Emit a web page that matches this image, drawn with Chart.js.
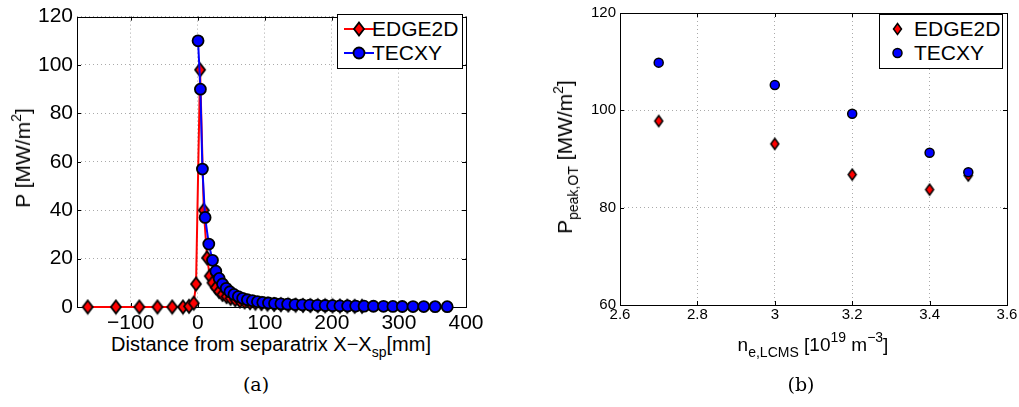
<!DOCTYPE html>
<html lang="en">
<head>
<meta charset="UTF-8">
<title>heat flux profiles</title>
<script src="https://cdn.jsdelivr.net/npm/chart.js"></script>
<style>
  body { margin: 0; background: #fff; font-family: "Liberation Sans", Arial, sans-serif; }
  #page { position: relative; width: 1019px; height: 407px; overflow: hidden; }
  canvas { position: absolute; top: 0; }
  #left { left: 0; }
  #right { left: 520px; }
  .lbl { position: absolute; white-space: nowrap; color: #000; line-height: 24px; }
  .sub { font-size: 14px; position: relative; top: 6px; }
  .sup { font-size: 14px; position: relative; top: -9px; }
  .legend { position: absolute; border: 1px solid #000; background: #fff; box-sizing: border-box; }
  .legend .item { position: absolute; left: 0; height: 24px; line-height: 24px; font-size: 21px; white-space: nowrap; }
  .legend svg { position: absolute; top: 0; }
  .legend span { position: absolute; top: 0; }
  .cap { position: absolute; font-family: "DejaVu Serif", "Liberation Serif", serif; font-size: 19px; line-height: 24px; }
</style>
</head>
<body>
<div id="page">
  <canvas id="left" width="500" height="330"></canvas>
  <canvas id="right" width="499" height="330"></canvas>

  <div class="lbl" style="left:24px; top:158px; font-size:21px; transform: translate(-50%,-50%) rotate(-90deg);">P [MW/m<span class="sup">2</span>]</div>
  <div class="lbl" style="left:271px; top:332px; font-size:20px; transform: translateX(-50%);">Distance from separatrix X&minus;X<span class="sub">sp</span>[mm]</div>

  <div class="lbl" style="left:566px; top:157px; font-size:21px; transform: translate(-50%,-50%) rotate(-90deg);">P<span class="sub">peak,OT</span> [MW/m<span class="sup">2</span>]</div>
  <div class="lbl" style="left:813px; top:333px; font-size:19px; transform: translateX(-50%);">n<span class="sub">e,LCMS</span> [10<span class="sup">19</span> m<span class="sup">&minus;3</span>]</div>

  <div class="legend" style="left:337px; top:14px; width:126px; height:55px;">
    <div class="item" style="top:2px; width:124px;">
      <svg width="32" height="24" style="left:5px"><line x1="1" y1="12" x2="31" y2="12" stroke="#f00" stroke-width="2"/><polygon points="16,5.5 21,12 16,18.5 11,12" fill="#f00" stroke="#000" stroke-width="1.8"/></svg>
      <span style="left:34px">EDGE2D</span>
    </div>
    <div class="item" style="top:26px; width:124px;">
      <svg width="32" height="24" style="left:5px"><line x1="1" y1="12" x2="31" y2="12" stroke="#00f" stroke-width="2"/><circle cx="16" cy="12" r="5.5" fill="#00f" stroke="#000" stroke-width="1.8"/></svg>
      <span style="left:34px">TECXY</span>
    </div>
  </div>

  <div class="legend" style="left:879px; top:14px; width:124px; height:55px;">
    <div class="item" style="top:2px; width:122px;">
      <svg width="24" height="24" style="left:6px"><polygon points="11.5,6.5 15.5,12 11.5,17.5 7.5,12" fill="#f00" stroke="#000" stroke-width="1.5"/></svg>
      <span style="left:34px">EDGE2D</span>
    </div>
    <div class="item" style="top:26px; width:122px;">
      <svg width="24" height="24" style="left:6px"><circle cx="11.5" cy="12" r="4.5" fill="#00f" stroke="#000" stroke-width="1.5"/></svg>
      <span style="left:34px">TECXY</span>
    </div>
  </div>

  <div class="cap" style="left:256px; top:372px; transform: translateX(-50%);">(a)</div>
  <div class="cap" style="left:801px; top:372px; transform: translateX(-50%);">(b)</div>
</div>

<script>
// (a) heat flux profile vs distance from separatrix
var edgeX = [-164, -122, -87, -60, -38, -22, -13, -6, -2.5, 3.5, 9, 14, 18, 22, 27, 32, 37, 43, 49, 56, 63, 70, 78, 86, 95, 104, 114, 124, 135, 146, 157, 168, 179, 190, 201, 212, 223, 234, 245];
var edgeY = [0, 0, 0, 0, 0, 0, 0.3, 1.6, 9.5, 98, 40, 20.3, 12.8, 10, 8, 6.4, 5.2, 4.3, 3.6, 3.0, 2.5, 2.1, 1.8, 1.6, 1.4, 1.2, 1.05, 0.95, 0.85, 0.75, 0.65, 0.6, 0.55, 0.5, 0.45, 0.4, 0.35, 0.3, 0.3];
var tecX = [0.5, 4, 7, 11, 16.5, 22, 27, 32, 37, 42.5, 48, 54, 60.5, 67, 74, 81.5, 89, 97, 105.5, 114.5, 124, 134, 145, 156, 167, 178.5, 190, 201, 212, 223.5, 235.5, 248, 262, 277, 291, 305, 321, 337, 354, 372];
var tecY = [110, 90, 57, 37, 26, 19.3, 14.8, 11.8, 9.5, 7.7, 6.3, 5.2, 4.3, 3.6, 3.0, 2.6, 2.2, 1.9, 1.65, 1.45, 1.3, 1.15, 1.0, 0.9, 0.8, 0.7, 0.62, 0.55, 0.5, 0.45, 0.4, 0.35, 0.3, 0.27, 0.24, 0.21, 0.19, 0.17, 0.15, 0.14];
var leftXTicks = [-100, 0, 100, 200, 300, 400];
var leftYTicks = [0, 20, 40, 60, 80, 100, 120];

// (b) peak heat flux vs upstream density
var density = [2.7, 3.0, 3.2, 3.4, 3.5];
var edgePeak = [97.8, 93.1, 86.8, 83.7, 86.6];
var tecPeak = [109.8, 105.2, 99.3, 91.3, 87.3];
var rightXTicks = [2.6, 2.8, 3.0, 3.2, 3.4, 3.6];
var rightYTicks = [60, 80, 100, 120];

var FONT = '"Liberation Sans", Arial, sans-serif';

function pts(xs, ys) {
  return xs.map(function (x, i) { return { x: x, y: ys[i] }; });
}

// taller-than-wide diamond like matlab's 'd' marker
function diamond(w, h, lw) {
  var c = document.createElement('canvas');
  c.width = w + 4; c.height = h + 4;
  var g = c.getContext('2d');
  g.beginPath();
  g.moveTo(c.width / 2, 2);
  g.lineTo(c.width - 2, c.height / 2);
  g.lineTo(c.width / 2, c.height - 2);
  g.lineTo(2, c.height / 2);
  g.closePath();
  g.fillStyle = '#ff0000';
  g.fill();
  g.lineWidth = lw;
  g.strokeStyle = '#000';
  g.stroke();
  return c;
}

// box round the axes plus small inward ticks, matlab style
var boxPlugin = {
  id: 'box',
  beforeDatasetsDraw: function (chart) {
    var a = chart.chartArea, ctx = chart.ctx;
    var xs = chart.scales.x, ys = chart.scales.y;
    ctx.save();
    ctx.strokeStyle = '#000';
    ctx.lineWidth = 1;
    ctx.beginPath();
    xs.ticks.forEach(function (t) {
      var px = Math.round(xs.getPixelForValue(t.value)) + 0.5;
      ctx.moveTo(px, a.bottom); ctx.lineTo(px, a.bottom - 4);
      ctx.moveTo(px, a.top); ctx.lineTo(px, a.top + 4);
    });
    ys.ticks.forEach(function (t) {
      var py = Math.round(ys.getPixelForValue(t.value)) + 0.5;
      ctx.moveTo(a.left, py); ctx.lineTo(a.left + 4, py);
      ctx.moveTo(a.right, py); ctx.lineTo(a.right - 4, py);
    });
    ctx.stroke();
    ctx.strokeRect(Math.round(a.left) + 0.5, Math.round(a.top) + 0.5, Math.round(a.right - a.left), Math.round(a.bottom - a.top));
    ctx.restore();
  }
};

function axis(min, max, ticks, size, width, height, fmt, pad) {
  var o = {
    type: 'linear',
    min: min,
    max: max,
    afterBuildTicks: function (s) { s.ticks = ticks.map(function (v) { return { value: v }; }); },
    ticks: {
      color: '#000',
      font: { family: FONT, size: size },
      padding: pad,
      maxRotation: 0,
      autoSkip: false,
      callback: fmt
    },
    grid: { color: '#aaaaaa', lineWidth: 1, drawTicks: false },
    border: { display: false, dash: [1, 3] }
  };
  if (width) o.afterFit = function (s) { s.width = width; };
  if (height) o.afterFit = function (s) { s.height = height; };
  return o;
}

function minus(v) { return String(v).replace('-', '\u2212'); }
function dec(v) { return String(Math.round(v * 10) / 10); }

new Chart(document.getElementById('left'), {
  type: 'line',
  data: {
    datasets: [{
      label: 'EDGE2D',
      data: pts(edgeX, edgeY),
      borderColor: '#ff0000',
      borderWidth: 2,
      pointStyle: diamond(10, 13, 1.8),
      pointRadius: 6,
      order: 2,
      clip: false
    }, {
      label: 'TECXY',
      data: pts(tecX, tecY),
      borderColor: '#0000ff',
      borderWidth: 2,
      backgroundColor: '#0000ff',
      pointStyle: 'circle',
      pointRadius: 5.5,
      pointBorderColor: '#000',
      pointBorderWidth: 1.8,
      order: 1,
      clip: false
    }]
  },
  options: {
    responsive: false,
    animation: false,
    events: [],
    layout: { padding: { top: 10, right: 34, bottom: 0, left: 0 } },
    plugins: { legend: { display: false }, tooltip: { enabled: false } },
    scales: {
      x: axis(-180, 400, leftXTicks, 21, null, 23, minus, 4),
      y: axis(0, 120, leftYTicks, 21, 77, null, minus, 4)
    }
  },
  plugins: [boxPlugin]
});

new Chart(document.getElementById('right'), {
  type: 'scatter',
  data: {
    datasets: [{
      label: 'EDGE2D',
      data: pts(density, edgePeak),
      pointStyle: diamond(8, 11, 1.5),
      pointRadius: 5,
      order: 2,
      clip: false
    }, {
      label: 'TECXY',
      data: pts(density, tecPeak),
      backgroundColor: '#0000ff',
      pointStyle: 'circle',
      pointRadius: 4.5,
      pointBorderColor: '#000',
      pointBorderWidth: 1.5,
      order: 1,
      clip: false
    }]
  },
  options: {
    responsive: false,
    animation: false,
    events: [],
    layout: { padding: { top: 10, right: 12, bottom: 0, left: 0 } },
    plugins: { legend: { display: false }, tooltip: { enabled: false } },
    scales: {
      x: axis(2.6, 3.6, rightXTicks, 15, null, 25, dec, 1),
      y: axis(60, 120, rightYTicks, 15, 100, null, dec, 4)
    }
  },
  plugins: [boxPlugin]
});
</script>
</body>
</html>
